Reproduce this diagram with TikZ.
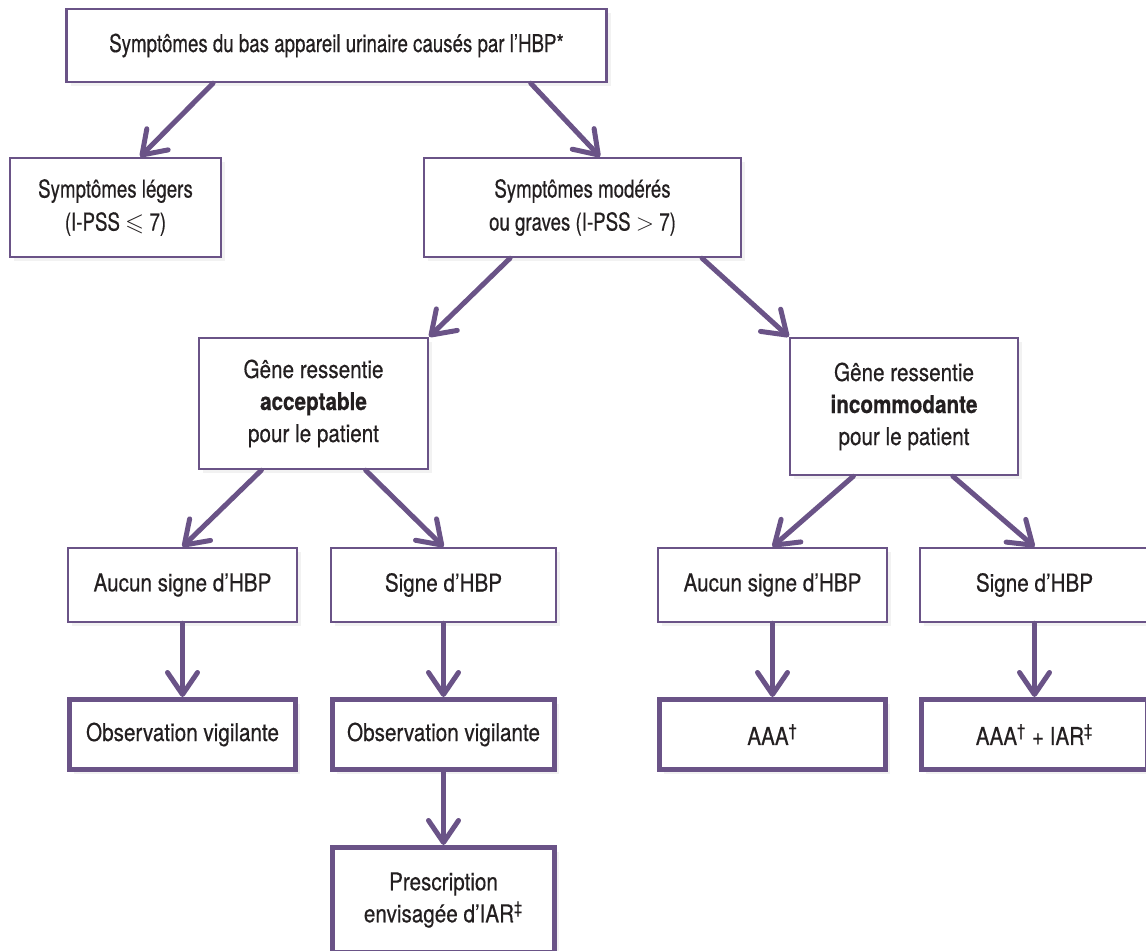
\documentclass[tikz,border=0pt]{standalone}
\usepackage{fontspec}
\setmainfont[FakeStretch=0.84,FakeBold=0.4]{TeX Gyre Heros}
\newfontfamily\narrowheros[FakeStretch=0.76,FakeBold=0.4]{TeX Gyre Heros}
\usepackage{amssymb}
\usepackage{tikz}
\usetikzlibrary{arrows.meta,shadows}
\definecolor{hbpviolet}{HTML}{6A5387}
\definecolor{hbptext}{HTML}{231F20}
\tikzset{
    box/.style = {
        draw=hbpviolet,
        shape=rectangle,
        fill=white,
        line width=1.25pt,
        align=center,
        text=hbptext,
        font=\fontsize{12.3}{16}\selectfont,
        drop shadow={shadow xshift=2pt, shadow yshift=-2pt, opacity=0.1}
    },
    upper/.style = {
        box,
        font=\narrowheros\fontsize{12.3}{16.5}\selectfont
    },
    result/.style = {
        box,
        line width=2.5pt
    },
    link/.style = {
        draw=hbpviolet,
        line width=2.5pt,
        line cap=round,
        -{Straight Barb[length=11pt,width=15pt,line cap=round,line join=round]}
    },
}

\begin{document}
\begin{tikzpicture}[x=0.5pt,y=-0.5pt]
        \useasboundingbox (0,0) rectangle (1146,951);

        \node[upper, minimum width=270pt, minimum height=36.5pt] (symptomes) at (336.5,45.5) {Symptômes du bas appareil urinaire causés par l’HBP*};

        \node[upper, minimum width=105.5pt, minimum height=49.5pt] (legers) at (115.5,207.5) {Symptômes légers\\(I-PSS $\leqslant$ 7)};
        \node[upper, minimum width=158.5pt, minimum height=49.5pt] (moderes) at (582.5,207.5) {Symptômes modérés\\ou graves (I-PSS $>$ 7)};

        \node[box, minimum width=114.5pt, minimum height=65.5pt] (acceptable) at (313.5,403.5) {Gêne ressentie\\\textbf{acceptable}\\pour le patient};
        \node[box, minimum width=114pt, minimum height=68.5pt] (incommodante) at (904,406.5) {Gêne ressentie\\\textbf{incommodante}\\pour le patient};

        \node[box, minimum width=114.5pt, minimum height=37pt] (aucuna) at (182.5,585) {Aucun signe d’HBP};
        \node[box, minimum width=112.5pt, minimum height=37pt] (signea) at (443.5,585) {Signe d’HBP};
        \node[box, minimum width=114.5pt, minimum height=37pt] (aucunb) at (772.5,585) {Aucun signe d’HBP};
        \node[box, minimum width=114.5pt, minimum height=37pt] (signeb) at (1034.5,585) {Signe d’HBP};

        \node[result, minimum width=113pt, minimum height=35pt] (observationa) at (182.5,734.5) {Observation vigilante};
        \node[result, minimum width=111pt, minimum height=35pt] (observationb) at (443.5,734.5) {Observation vigilante};
        \node[result, minimum width=113pt, minimum height=35pt] (aaa) at (772.5,734.5) {AAA\textsuperscript{†}};
        \node[result, minimum width=113pt, minimum height=35pt] (aaaiar) at (1034.5,734.5) {AAA\textsuperscript{†} + IAR\textsuperscript{‡}};

        \node[result, minimum width=111pt, minimum height=52.5pt] (prescription) at (443.5,900) {Prescription\\envisagée d’IAR\textsuperscript{‡}};

        \path[link] (symptomes.197) -- (legers.64);
        \path[link] (symptomes.349) -- (moderes.71);
        \path[link] (moderes.215) -- (acceptable.north east);
        \path[link] (moderes.337) -- (incommodante.north west);

        \path[link] (acceptable.232) -- (aucuna.north);
        \path[link] (acceptable.308) -- (signea.north);
        \path[link] (incommodante.234) -- (aucunb.north);
        \path[link] (incommodante.305) -- (signeb.north);

        \path[link] (aucuna.south) -- (observationa.north);
        \path[link] (signea.south) -- (observationb.north);
        \path[link] (observationb.south) -- (prescription.north);
        \path[link] (aucunb.south) -- (aaa.north);
        \path[link] (signeb.south) -- (aaaiar.north);
    \end{tikzpicture}
\end{document}
